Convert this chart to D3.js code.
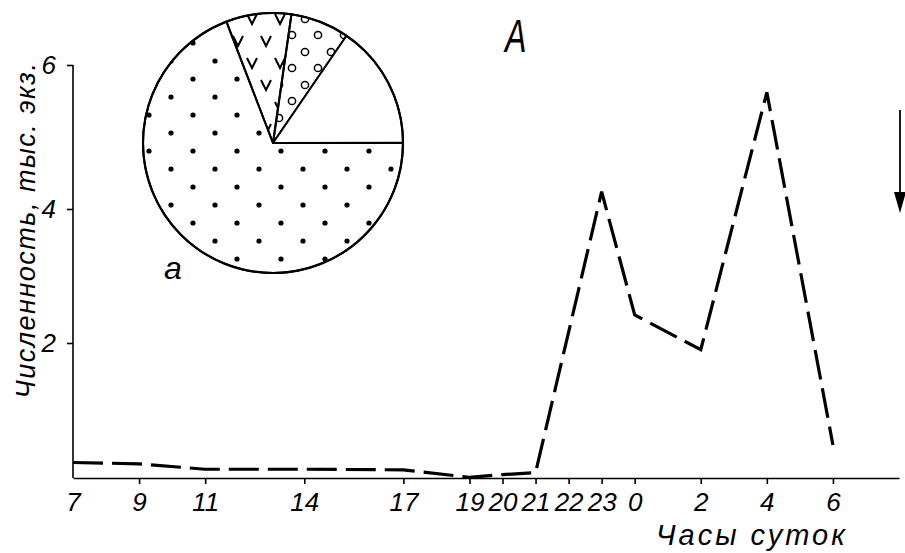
<!DOCTYPE html>
<html><head><meta charset="utf-8">
<script src="https://cdn.jsdelivr.net/npm/d3@7"></script>
<style>body{margin:0;background:#fff;} svg{display:block;}</style>
</head><body><svg id="chart" width="905" height="553"></svg>
<script>
// ---- data ----
const hours = [7, 9, 11, 14, 17, 19, 20, 21, 23, 24, 26, 28, 30];       // continuous hours (24 = 0 h next day)
const abundance = [0.23, 0.21, 0.13, 0.13, 0.12, 0.01, 0.05, 0.08, 4.24, 2.42, 1.9, 5.62, 0.49];
const xTickValues = [7, 9, 11, 14, 17, 19, 20, 21, 22, 23, 24, 26, 28, 30];
const xTickLabels = ["7", "9", "11", "14", "17", "19", "20", "21", "22", "23", "0", "2", "4", "6"];
const yTickValues = [2, 4, 6];
const pieCategories = ["v", "circles", "blank", "dots"];
const pieValues = [8.1, 7.3, 15.4, 69.2];
const yLabel = "Численность, тыс. экз.";
const xLabel = "Часы суток";

const svg = d3.select("#chart");
const FONT = "'Liberation Sans', Arial, sans-serif";

const x = d3.scaleLinear().domain([7, 32]).range([73, 899]);
const y = d3.scaleLinear().domain([0, 2, 4, 6]).range([478, 343, 209, 65]);

// patterns
const defs = svg.append("defs");
const pDots = defs.append("pattern").attr("id", "pdots").attr("patternUnits", "userSpaceOnUse")
  .attr("width", 44).attr("height", 36);
pDots.append("circle").attr("cx", 8).attr("cy", 8).attr("r", 2.6).attr("fill", "#000");
pDots.append("circle").attr("cx", 30).attr("cy", 26).attr("r", 2.6).attr("fill", "#000");

const pV = defs.append("pattern").attr("id", "pv").attr("patternUnits", "userSpaceOnUse")
  .attr("width", 28).attr("height", 44);
[[7, 8], [21, 30]].forEach(([cx, cy]) =>
  pV.append("path").attr("d", `M${cx - 5},${cy - 5} L${cx},${cy + 5} L${cx + 5},${cy - 5}`)
    .attr("fill", "none").attr("stroke", "#000").attr("stroke-width", 2));

const pC = defs.append("pattern").attr("id", "pc").attr("patternUnits", "userSpaceOnUse")
  .attr("width", 26).attr("height", 33);
[[6, 8], [19, 24]].forEach(([cx, cy]) =>
  pC.append("circle").attr("cx", cx).attr("cy", cy).attr("r", 3.6)
    .attr("fill", "none").attr("stroke", "#000").attr("stroke-width", 1.5));

const fills = { v: "url(#pv)", circles: "url(#pc)", blank: "#fff", dots: "url(#pdots)" };

// ---- pie inset ----
const pieCx = 273, pieCy = 143, pieR = 130;
const pie = d3.pie().sort(null)
  .startAngle(-21 * Math.PI / 180).endAngle(-21 * Math.PI / 180 + 2 * Math.PI);
const arcs = pie(pieValues);
const arc = d3.arc().innerRadius(0).outerRadius(pieR);
const gPie = svg.append("g").attr("transform", `translate(${pieCx},${pieCy})`);
gPie.selectAll("path").data(arcs).join("path")
  .attr("d", arc)
  .attr("fill", (d, i) => fills[pieCategories[i]])
  .attr("stroke", "#000").attr("stroke-width", 2).attr("stroke-linejoin", "round");
gPie.append("circle").attr("r", pieR).attr("fill", "none").attr("stroke", "#000").attr("stroke-width", 2.2);

svg.append("text").attr("x", 164).attr("y", 279).attr("font-family", FONT)
  .attr("font-style", "italic").attr("font-size", 32).text("a");

// ---- axes ----
const xAxis = d3.axisBottom(x).tickValues(xTickValues)
  .tickFormat((d, i) => xTickLabels[i]).tickSize(6).tickSizeOuter(0).tickPadding(9);
const gx = svg.append("g").attr("transform", `translate(0,${y(0)})`).call(xAxis);
gx.select(".domain").attr("stroke-width", 1.6);
gx.selectAll(".tick line").attr("stroke-width", 1.6).filter(d => d === 7).remove();
gx.selectAll(".tick text").attr("font-family", FONT).attr("font-style", "italic")
  .attr("font-size", 26).attr("fill", "#000");

const yAxis = d3.axisLeft(y).tickValues(yTickValues).tickFormat(d3.format("d"))
  .tickSize(6).tickSizeOuter(0).tickPadding(11);
const gy = svg.append("g").attr("transform", `translate(${x(7)},0)`).call(yAxis);
gy.select(".domain").attr("stroke-width", 1.6).attr("d", `M0,${y(6)}V${y(0)}`);
gy.selectAll(".tick line").attr("stroke-width", 1.6);
gy.selectAll(".tick text").attr("font-family", FONT).attr("font-style", "italic")
  .attr("font-size", 26).attr("fill", "#000");

// ---- line ----
const line = d3.line().x((d, i) => x(hours[i])).y(d => y(d));
svg.append("path").datum(abundance).attr("d", line)
  .attr("fill", "none").attr("stroke", "#000").attr("stroke-width", 3.2)
  .attr("stroke-dasharray", "30 9").attr("stroke-linejoin", "miter");

// ---- labels ----
svg.append("text").attr("transform", "translate(35,230) rotate(-90)")
  .attr("text-anchor", "middle").attr("font-family", FONT).attr("font-style", "italic")
  .attr("font-size", 27).attr("letter-spacing", 1.5).text(yLabel);

svg.append("text").attr("x", 656).attr("y", 545).attr("font-family", FONT)
  .attr("font-style", "italic").attr("font-size", 29).attr("letter-spacing", 3).text(xLabel);

svg.append("text").attr("transform", "translate(505,52) scale(0.7,1)")
  .attr("font-family", FONT).attr("font-style", "italic").attr("font-size", 46).text("A");

// arrow
svg.append("line").attr("x1", 900).attr("x2", 900).attr("y1", 110).attr("y2", 196)
  .attr("stroke", "#000").attr("stroke-width", 1.8);
svg.append("path").attr("d", "M894,192 L906,192 L900,213 Z").attr("fill", "#000");
</script></body></html>
